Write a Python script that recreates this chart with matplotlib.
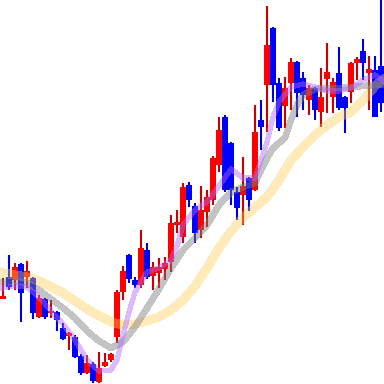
import matplotlib
matplotlib.use("Agg")
import matplotlib.pyplot as plt
import numpy as np

# candle prices (one candle per slot)
opens = [85, 107, 104, 120, 107, 106, 67, 85, 71, 72, 56, 48, 47, 28, 11, 20,
         2, 18, 24, 47, 92, 129, 104, 99, 134, 108, 111, 115, 122, 159, 147, 199,
         178, 154, 172, 184, 219, 267, 241, 192, 189, 206, 194, 264, 299, 356, 301, 278,
         301, 322, 306, 284, 296, 272, 305, 287, 311, 287, 292, 321, 333, 311, 314, 318]
highs = [106, 129, 121, 121, 123, 107, 89, 86, 84, 73, 61, 52, 49, 30, 29, 22,
         32, 31, 31, 94, 118, 130, 107, 154, 141, 122, 126, 127, 169, 174, 201, 202,
         181, 198, 194, 228, 267, 269, 242, 197, 227, 207, 279, 284, 378, 357, 306, 307,
         326, 323, 312, 299, 297, 316, 341, 306, 337, 288, 322, 327, 345, 328, 328, 384]
lows = [85, 94, 94, 62, 96, 65, 66, 65, 66, 53, 44, 34, 26, 9, 10, 1,
        1, 17, 22, 41, 84, 101, 96, 96, 105, 94, 96, 104, 112, 151, 141, 177,
        141, 146, 157, 179, 212, 192, 179, 164, 159, 173, 193, 234, 252, 282, 253, 256,
        274, 267, 274, 269, 264, 257, 271, 271, 274, 251, 281, 304, 304, 274, 267, 272]
closes = [88, 97, 117, 91, 113, 71, 86, 67, 73, 64, 45, 51, 27, 11, 21, 3,
          16, 22, 30, 92, 113, 105, 99, 136, 107, 117, 117, 121, 161, 162, 197, 184,
          151, 174, 187, 226, 254, 194, 194, 176, 198, 184, 252, 257, 339, 299, 256, 296,
          322, 291, 289, 296, 274, 287, 312, 302, 276, 276, 321, 325, 321, 315, 267, 281]

# moving average lines at candle slots
ma_short_x = [-0.5, 0, 2, 4, 6, 8, 10, 12, 14, 16, 18, 19, 20, 21, 22, 24, 26, 28, 29, 30,
              32, 34, 36, 38, 40, 42, 43, 44, 45, 46, 48, 50, 52, 54, 56, 58, 60, 62, 63, 63.5]
ma_short = [96, 96, 98, 97, 87, 73, 60, 44, 24, 13, 14, 24, 49, 72, 92, 112, 116, 124, 138, 159,
            174, 182, 198, 215, 206, 206, 224, 242, 267, 282, 297, 300, 297, 293, 293, 296, 304, 309, 305, 303]

ma_mid_x = [-0.5, 0, 2, 4, 6, 8, 10, 12, 14, 16, 18, 20, 22, 24, 26, 28, 30, 32, 34, 36,
            38, 40, 42, 44, 45, 46, 47, 48, 49, 50, 52, 54, 56, 58, 60, 62, 63, 63.5]
ma_mid = [102, 102, 103, 101, 94, 85, 76, 66, 53, 43, 36, 42, 57, 76, 95, 116, 134, 146, 159, 179,
          192, 197, 201, 226, 236, 241, 246, 264, 279, 289, 295, 296, 296, 297, 298, 299, 299, 299]

ma_long_x = [-0.5, 0, 2, 4, 6, 8, 10, 12, 14, 16, 18, 20, 22, 24, 26, 28, 30, 32, 34, 36,
             38, 40, 42, 44, 46, 48, 50, 52, 54, 56, 58, 60, 62, 63, 63.5]
ma_long = [111, 111, 109, 107, 103, 97, 91, 83, 75, 68, 62, 59, 60, 63, 67, 74, 84, 98, 116, 136,
           153, 166, 177, 187, 204, 224, 237, 249, 259, 267, 272, 284, 298, 303, 305]

o = np.array(opens)
c = np.array(closes)
x = np.arange(len(opens))
up = c >= o

fig = plt.figure(figsize=(3.84, 3.84), dpi=100)
ax = fig.add_axes([0, 0, 1, 1])

body_col = np.where(up, "#ff0000", "#0000ff")
wick_col = np.where(up, "#cc0000", "#0000dd")

ax.vlines(x, lows, highs, colors=wick_col, linewidth=1.5, zorder=1)
heights = np.maximum(np.abs(c - o), 1.2)
ax.bar(x, heights, bottom=np.minimum(o, c), width=0.85, color=body_col, zorder=2)

ax.plot(ma_long_x, ma_long, color="#ffcb51", alpha=0.4, linewidth=5.8,
        antialiased=False, zorder=3)
ax.plot(ma_mid_x, ma_mid, color="#818181", alpha=0.47, linewidth=4.0,
        antialiased=False, zorder=4)
ax.plot(ma_short_x, ma_short, color="#b169fd", alpha=0.45, linewidth=3.0,
        antialiased=False, zorder=5)

ax.set_xlim(-0.5, 63.5)
ax.set_ylim(0, 384)
ax.axis("off")

fig.savefig("out.png", dpi=100)
plt.close(fig)
